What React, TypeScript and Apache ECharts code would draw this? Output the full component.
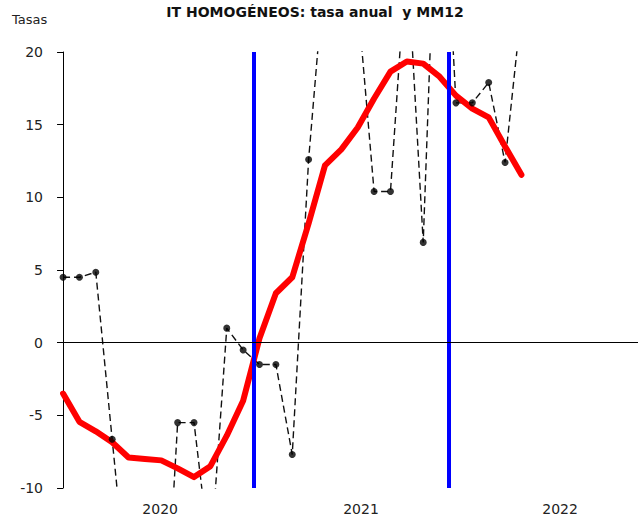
import React, { useEffect, useRef } from "react";
import * as echarts from "echarts";

// Tasa anual (dashed, monthly) – values beyond the axis range are clipped
const annualRate = [
  4.5, 4.5, 4.85, -6.65, -18, -22, -25, -5.5, -5.5, -15, 1.0, -0.5, -1.5, -1.5,
  -7.7, 12.6, 26, 27, 23.5, 10.4, 10.4, 27, 6.9, 38, 16.5, 16.5, 17.9, 12.4, 23,
];
// MM12 (red)
const mm12 = [
  -3.5, -5.45, -6.1, -6.85, -7.9, -8.0, -8.1, -8.65, -9.25, -8.5, -6.4, -4.0,
  0.3, 3.4, 4.5, 8.2, 12.2, 13.3, 14.8, 16.8, 18.65, 19.35, 19.2, 18.3, 17.0,
  16.1, 15.5, 13.5, 11.55,
];
const yearLabels = ["2020", "2021", "2022"];
const yearPositions = [5.93, 18.2, 30.36];
const markerPositions = [11.67, 23.58];
const yMin = -10;
const yMax = 20;
const yStep = 5;

const FONT = "DejaVu Sans";

export default function App() {
  const ref = useRef<HTMLDivElement>(null);
  useEffect(() => {
    if (!ref.current) return;
    const chart = echarts.init(ref.current, undefined, { renderer: "svg" });
    const annualData = annualRate.map((v, i) => [i, v]);
    const mmData = mm12.map((v, i) => [i, v]);
    chart.setOption({
      animation: false,
      backgroundColor: "#ffffff",
      grid: { left: 57, right: 0, top: 52, bottom: 31, containLabel: false },
      graphic: [
        {
          type: "text",
          x: 315,
          y: 5,
          style: {
            text: "IT HOMOGÉNEOS: tasa anual  y MM12",
            fontFamily: FONT,
            fontSize: 14,
            fontWeight: "bold",
            fill: "#111",
            align: "center",
            verticalAlign: "top",
          },
        },
        {
          type: "text",
          x: 12,
          y: 13,
          style: {
            text: "Tasas",
            fontFamily: FONT,
            fontSize: 13,
            fill: "#222",
            align: "left",
            verticalAlign: "top",
          },
        },
      ],
      xAxis: {
        type: "value",
        min: -0.37,
        max: 35.12,
        axisLine: { show: false },
        axisTick: { show: false },
        splitLine: { show: false },
        axisLabel: {
          customValues: yearPositions,
          margin: 14,
          fontFamily: FONT,
          fontSize: 14,
          color: "#222",
          formatter: (v: number) => {
            let best = 0;
            for (let i = 0; i < yearPositions.length; i++) {
              if (Math.abs(yearPositions[i] - v) < Math.abs(yearPositions[best] - v)) best = i;
            }
            return yearLabels[best];
          },
        },
      },
      yAxis: {
        type: "value",
        min: yMin,
        max: yMax,
        interval: yStep,
        axisLine: { show: true, lineStyle: { color: "#000", width: 1 } },
        axisTick: { show: true, length: 6, lineStyle: { color: "#000", width: 1 } },
        splitLine: { show: false },
        axisLabel: {
          margin: 14,
          fontFamily: FONT,
          fontSize: 14,
          color: "#222",
        },
      },
      series: [
        {
          type: "line",
          data: [],
          z: 1,
          silent: true,
          markLine: {
            silent: true,
            symbol: ["none", "none"],
            label: { show: false },
            lineStyle: { color: "#0000ff", width: 4, type: "solid" },
            data: markerPositions.map((p) => ({ xAxis: p })),
          },
        },
        {
          type: "line",
          data: annualData,
          z: 2,
          showSymbol: false,
          symbol: "none",
          clip: true,
          lineStyle: { color: "#111", width: 1.4, type: [7, 4] },
          markLine: {
            silent: true,
            symbol: ["none", "none"],
            label: { show: false },
            lineStyle: { color: "#000", width: 1, type: "solid" },
            data: [{ yAxis: 0 }],
          },
        },
        {
          type: "line",
          data: mmData,
          z: 3,
          symbol: "none",
          clip: true,
          lineStyle: { color: "#ff0000", width: 6, join: "round", cap: "round" },
        },
        {
          type: "scatter",
          data: annualData,
          z: 4,
          clip: true,
          symbol: "circle",
          symbolSize: 7,
          itemStyle: { color: "#000" },
        },
      ],
    });
    return () => chart.dispose();
  }, []);
  return (
    <div
      ref={ref}
      style={{ position: "fixed", left: 0, top: 0, width: 638, height: 519, background: "#fff" }}
    />
  );
}
